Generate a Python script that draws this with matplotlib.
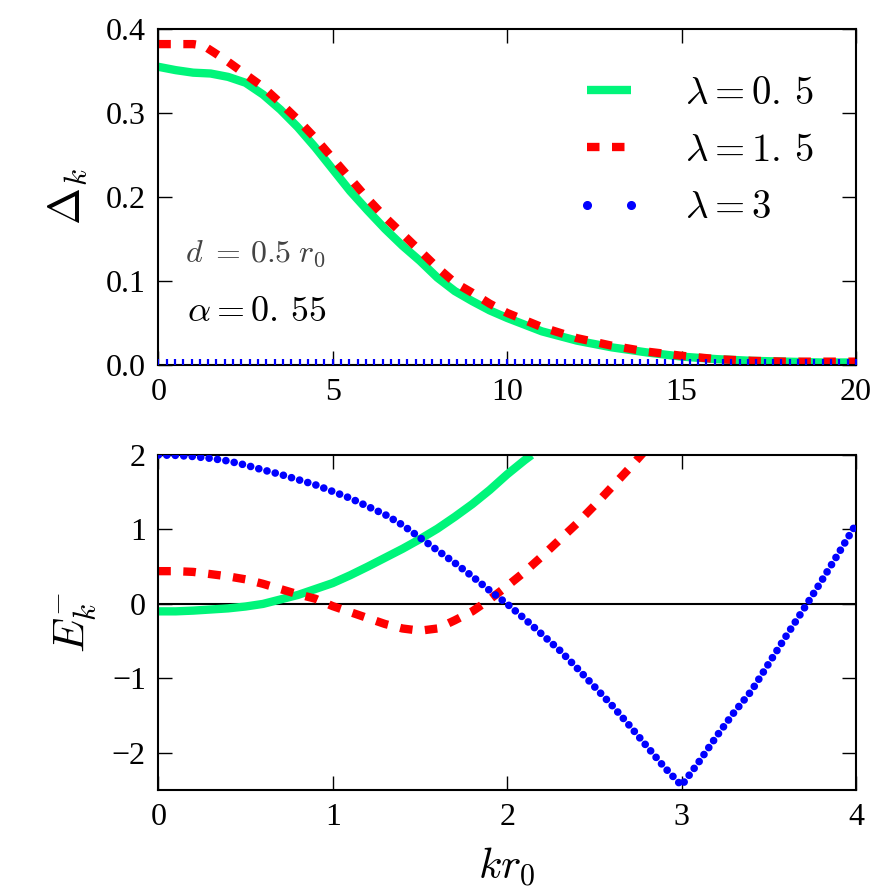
import numpy as np
import matplotlib
matplotlib.use('Agg')
import matplotlib.pyplot as plt
from matplotlib.lines import Line2D
from matplotlib.font_manager import FontProperties

plt.rcParams['font.family'] = 'serif'
plt.rcParams['font.serif'] = ['Liberation Serif', 'DejaVu Serif']
plt.rcParams['mathtext.fontset'] = 'cm'

## gap function Delta_k (top panel)
k_top_l05 = [0, 0.5, 1.0, 1.5, 2.0, 2.5, 3.0, 3.5, 4.0, 4.5, 5.0, 5.5, 6.0, 6.5, 7.0, 7.5,
             8.0, 8.5, 9.0, 9.5, 10.0, 11.0, 12.0, 13.0, 14.0, 15.0, 16.0, 17.0, 18.0, 19.0, 20.0]
delta_l05 = [0.355, 0.351, 0.348, 0.347, 0.343, 0.336, 0.322, 0.304, 0.283, 0.259, 0.233, 0.207,
             0.184, 0.162, 0.142, 0.124, 0.104, 0.088, 0.076, 0.065, 0.056, 0.040, 0.029, 0.021,
             0.015, 0.010, 0.007, 0.005, 0.004, 0.003, 0.003]

k_top_l15 = [0, 0.5, 1.0, 1.3, 1.6, 2.0, 2.5, 3.0, 3.5, 4.0, 4.5, 5.0, 5.5, 6.0, 6.5, 7.0, 7.5,
             8.0, 8.5, 9.0, 9.5, 10.0, 11.0, 12.0, 13.0, 14.0, 15.0, 16.0, 17.0, 18.0, 19.0, 20.0]
delta_l15 = [0.382, 0.382, 0.382, 0.380, 0.372, 0.361, 0.346, 0.331, 0.312, 0.292, 0.270, 0.246,
             0.222, 0.198, 0.176, 0.156, 0.136, 0.116, 0.098, 0.086, 0.073, 0.062, 0.045, 0.032,
             0.023, 0.016, 0.011, 0.007, 0.005, 0.004, 0.004, 0.004]

k_top_l3 = np.linspace(0, 20, 85)
delta_l3 = np.full(85, 0.004)   # zero gap for lambda = 3

## quasiparticle energy E_k^- (bottom panel)
k_l05 = [0.0, 0.1, 0.2, 0.3, 0.4, 0.5, 0.6, 0.7, 0.8, 0.9, 1.0, 1.1, 1.2, 1.3, 1.4, 1.5,
         1.6, 1.7, 1.8, 1.9, 2.0, 2.1, 2.14]
E_l05 = [-0.10, -0.10, -0.09, -0.075, -0.06, -0.035, 0.0, 0.06, 0.12, 0.20, 0.28, 0.385, 0.50,
         0.62, 0.74, 0.87, 1.01, 1.17, 1.34, 1.53, 1.74, 1.93, 2.0]

k_l15 = [0.0, 0.1, 0.2, 0.3, 0.4, 0.5, 0.6, 0.7, 0.8, 0.9, 1.0, 1.1, 1.2, 1.3, 1.4, 1.5,
         1.6, 1.7, 1.8, 1.9, 2.0, 2.1, 2.2, 2.3, 2.4, 2.5, 2.6, 2.7, 2.78]
E_l15 = [0.44, 0.44, 0.43, 0.40, 0.37, 0.33, 0.27, 0.20, 0.13, 0.07, -0.03, -0.11, -0.19,
         -0.27, -0.33, -0.36, -0.33, -0.22, -0.10, 0.06, 0.24, 0.43, 0.64, 0.86, 1.08, 1.32,
         1.57, 1.82, 2.03]

k_l3 = [0.0, 0.1, 0.2, 0.3, 0.4, 0.5, 0.6, 0.7, 0.8, 0.9, 1.0, 1.1, 1.2, 1.3, 1.4, 1.5,
        1.6, 1.7, 1.8, 1.9, 2.0, 2.1, 2.2, 2.3, 2.4, 2.5, 2.6, 2.7, 2.8, 2.9, 3.0,
        3.1, 3.2, 3.3, 3.4, 3.5, 3.6, 3.7, 3.8, 3.9, 4.0]
E_l3 = [2.0, 1.995, 1.98, 1.955, 1.92, 1.865, 1.80, 1.74, 1.67, 1.60, 1.51, 1.42, 1.31, 1.20,
        1.06, 0.89, 0.72, 0.55, 0.37, 0.18, 0.0, -0.20, -0.41, -0.62, -0.86, -1.11, -1.36,
        -1.63, -1.91, -2.19, -2.44, -2.12, -1.78, -1.46, -1.17, -0.80, -0.43, -0.07, 0.30,
        0.68, 1.07]

labels = [r'$\lambda=0.\,5$', r'$\lambda=1.\,5$', r'$\lambda=3$']
c_green = '#00f57a'
c_red = '#ff0000'
c_blue = '#0000ff'
dash_red = (0, (1.5, 1.5))

fig = plt.figure(figsize=(8.82, 8.92), dpi=100)
ax1 = fig.add_axes([0.1795, 0.5908, 0.791, 0.3767])
ax2 = fig.add_axes([0.1795, 0.1143, 0.791, 0.3756])

# top panel
g1, = ax1.plot(k_top_l05, delta_l05, color=c_green, lw=6, solid_capstyle='butt')
r1, = ax1.plot(k_top_l15, delta_l15, color=c_red, lw=6, ls=dash_red, dash_capstyle='butt')
ax1.plot(k_top_l3, delta_l3, ls='none', marker='|', ms=4, mew=1.6, color=c_blue, zorder=5)
ax1.set_xlim(0, 20)
ax1.set_ylim(0, 0.4)
ax1.set_xticks([0, 5, 10, 15, 20])
ax1.set_yticks([0.0, 0.1, 0.2, 0.3, 0.4])
ax1.set_yticklabels(['0.0', '0.1', '0.2', '0.3', '0.4'])
ax1.set_ylabel(r'$\Delta_k$', fontsize=32, labelpad=12)
ax1.text(0.77, 0.133, r'$d\;=\,0.5\;r_0$', fontsize=23, color='#444444', va='center')
ax1.text(0.82, 0.063, r'$\alpha=0.\,55$', fontsize=26, va='center')

blue_proxy = Line2D([], [], ls='none', marker='o', ms=5.5, color=c_blue)
ax1.legend([g1, r1, blue_proxy], labels, loc='upper right', bbox_to_anchor=(0.99, 0.965),
           frameon=False, prop=FontProperties(size=28), handlelength=1.72,
           handletextpad=1.1, labelspacing=0.52, numpoints=2)

# bottom panel
ax2.axhline(0, color='black', lw=1.5, zorder=1)
ax2.plot(k_l05, E_l05, color=c_green, lw=6, solid_capstyle='butt')
ax2.plot(k_l15, E_l15, color=c_red, lw=6, ls=dash_red, dash_capstyle='butt')
ax2.plot(k_l3, E_l3, color=c_blue, lw=5.5, ls=(0, (0.01, 1.1)), dash_capstyle='round', zorder=5)
ax2.set_xlim(0, 4)
ax2.set_ylim(-2.5, 2)
ax2.set_xticks([0, 1, 2, 3, 4])
ax2.set_yticks([-2, -1, 0, 1, 2])
ax2.set_ylabel(r'$E_k^{-}$', fontsize=32, labelpad=10)
ax2.set_xlabel(r'$kr_0$', fontsize=31, labelpad=10)

for ax in (ax1, ax2):
    ax.tick_params(direction='in', length=10, width=1, top=True, right=True,
                   labelsize=23, pad=9)
    for s in ax.spines.values():
        s.set_linewidth(1.5)

fig.savefig('out.png', dpi=100)
